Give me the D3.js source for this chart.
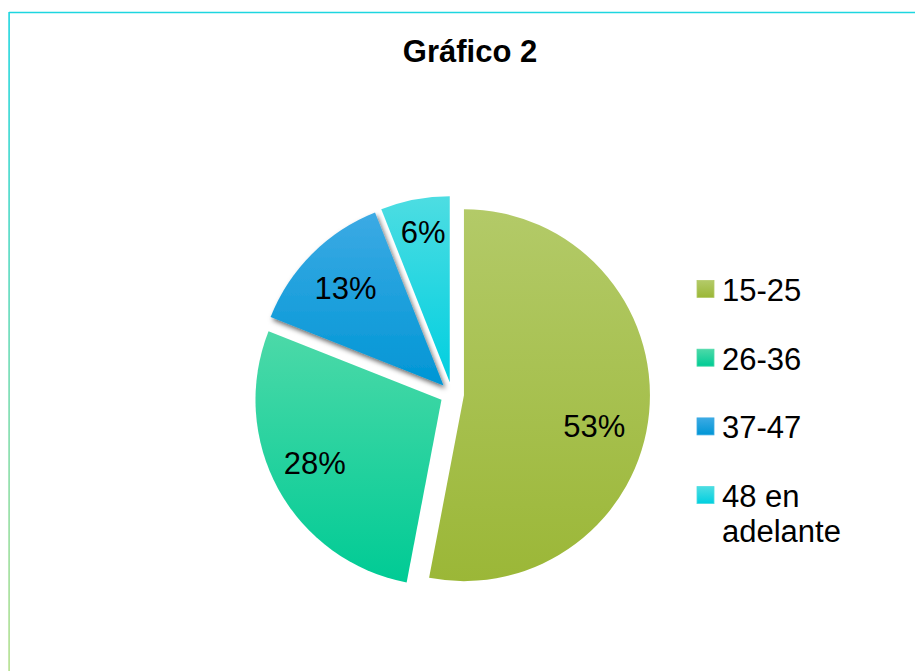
<!DOCTYPE html>
<html><head><meta charset="utf-8">
<script src="https://cdn.jsdelivr.net/npm/d3@7"></script>
<style>html,body{margin:0;padding:0;background:#fff;}svg{display:block;font-family:"Liberation Sans",Arial,sans-serif;}</style>
</head><body>
<script>
const title = "Gráfico 2";
const categories = ["15-25", "26-36", "37-47", "48 en adelante"];
const values = [53, 28, 13, 6];
const valueLabels = ["53%", "28%", "13%", "6%"];
const colorTop = ["#b3ca68", "#4cd9a8", "#3caae4", "#4ddde2"];
const colorBottom = ["#9bb737", "#00cb95", "#0096d5", "#00cfe0"];

const W = 915, H = 671;
const cx = 452, cy = 394, R = 186, explode = 12;
// label placement (fraction of radius, angular nudge in degrees), per slice
const labelRadiusFrac = [0.72, 0.76, 0.745, 0.82];
const labelAngleShift = [8, 2.5, 0, 0.8];

const svg = d3.select("body").append("svg").attr("width", W).attr("height", H);
const defs = svg.append("defs");

// border
const bg = defs.append("linearGradient").attr("id", "bordG")
  .attr("gradientUnits", "userSpaceOnUse").attr("x1", 0).attr("y1", 12).attr("x2", 0).attr("y2", 671);
bg.append("stop").attr("offset", 0).attr("stop-color", "#1dd6e0");
bg.append("stop").attr("offset", 1).attr("stop-color", "#b5e08e");
svg.append("line").attr("x1", 9).attr("x2", W + 5).attr("y1", 12.5).attr("y2", 12.5).attr("stroke", "#1dd6e0").attr("stroke-width", 1.6);
svg.append("rect").attr("x", 8.3).attr("y", 12).attr("width", 1.6).attr("height", H).attr("fill", "url(#bordG)");

// gradients
categories.forEach((c, i) => {
  const g = defs.append("linearGradient").attr("id", "g" + i).attr("x1", 0).attr("y1", 0).attr("x2", 0).attr("y2", 1);
  g.append("stop").attr("offset", 0).attr("stop-color", colorTop[i]);
  g.append("stop").attr("offset", 1).attr("stop-color", colorBottom[i]);
});
const f = defs.append("filter").attr("id", "shadow").attr("x", "-20%").attr("y", "-20%").attr("width", "150%").attr("height", "150%");
f.append("feDropShadow").attr("dx", 2).attr("dy", 3).attr("stdDeviation", 2.5).attr("flood-color", "#000").attr("flood-opacity", 0.6);

svg.append("text").attr("x", 470).attr("y", 62).attr("text-anchor", "middle")
  .style("font-size", "31px").style("font-weight", "bold").text(title);

const pie = d3.pie().sort(null).value(d => d)(values);
const arc = d3.arc().innerRadius(0).outerRadius(R);

const g = svg.append("g").attr("transform", `translate(${cx},${cy})`);
const slices = g.selectAll("g.slice").data(pie).join("g").attr("class", "slice")
  .attr("transform", d => {
    const m = (d.startAngle + d.endAngle) / 2;
    return `translate(${explode * Math.sin(m)},${-explode * Math.cos(m)})`;
  });
slices.append("path").attr("d", arc).attr("fill", (d, i) => `url(#g${i})`)
  .attr("filter", (d, i) => i === 2 ? "url(#shadow)" : null);
slices.append("text")
  .attr("transform", (d, i) => {
    const m = (d.startAngle + d.endAngle) / 2 + labelAngleShift[i] * Math.PI / 180;
    const r = R * labelRadiusFrac[i];
    return `translate(${r * Math.sin(m)},${-r * Math.cos(m)})`;
  })
  .attr("text-anchor", "middle").attr("dy", "0.36em")
  .style("font-size", "31px").attr("fill", "#000")
  .text((d, i) => valueLabels[i]);

// legend
const legY0 = 289, legStep = 68.7, legX = 697;
const leg = svg.append("g");
categories.forEach((c, i) => {
  const y = legY0 + i * legStep;
  leg.append("rect").attr("x", legX).attr("y", y - 8.5).attr("width", 17).attr("height", 17)
    .attr("fill", `url(#g${i})`).attr("stroke", colorTop[i]).attr("stroke-width", 0.8);
  const t = leg.append("text").attr("x", legX + 25).attr("y", y + 12).style("font-size", "31px");
  const words = c.split(" ");
  let line = [], tspan = t.append("tspan").attr("x", legX + 25).attr("dy", 0);
  words.forEach(w => {
    line.push(w);
    tspan.text(line.join(" "));
    if (tspan.node().getComputedTextLength() > 185 && line.length > 1) {
      line.pop(); tspan.text(line.join(" "));
      line = [w];
      tspan = t.append("tspan").attr("x", legX + 25).attr("dy", 35).text(w);
    }
  });
});
</script>
</body></html>
